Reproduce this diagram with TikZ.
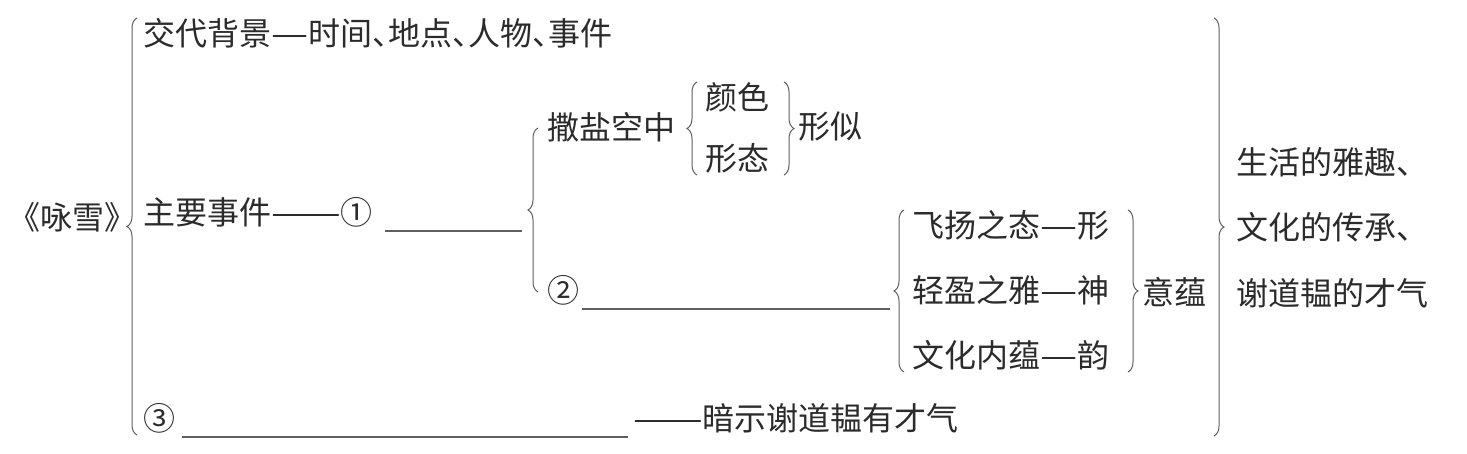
\documentclass[tikz,border=0pt]{standalone}
\usepackage{fontspec}
\usepackage{tikz}
\usetikzlibrary{decorations.pathreplacing,positioning}
\newfontfamily\cjk{Noto Sans CJK SC}
\newcommand\zdash{{\addfontfeature{FakeStretch=1.3}—}}
\newcommand\hdun{{\addfontfeature{RawFeature=+halt}、}}
\definecolor{ink}{HTML}{2B2B2B}
\definecolor{rule}{HTML}{5E5E5E}

\begin{document}
\begin{tikzpicture}[x=1pt,y=-1pt,
  font=\cjk\fontsize{32}{34}\selectfont,
  txt/.style={anchor=west,inner sep=0pt,text=ink},
  brc/.style={draw=rule,line width=1pt,decorate,
              decoration={brace,amplitude=10pt}},
  blank/.style={draw=rule,line width=1.3pt}]

  \useasboundingbox (0,0) rectangle (1467,454);

  % the poem and its three parts
  \node[txt] (poem) at (8,217) {《咏雪》};
  \node[txt] (bg)   at (143,33)  {交代背景\zdash 时间\hdun 地点\hdun 人物\hdun 事件};
  \node[txt] (main) at (143,212) {主要事件\zdash\zdash ①};
  \node[txt] (three) at (143,418) {③};
  \node[txt] (hint) at (633,418) {\zdash\zdash 暗示谢道韫有才气};
  \coordinate (b1a) at (385,231);  \coordinate (b1b) at (522,231);
  \coordinate (b3a) at (182,437);  \coordinate (b3b) at (628,437);
  \draw[blank] (b1a) -- (b1b);
  \draw[blank] (b3a) -- (b3b);

  % first branch: salt in the air
  \node[txt] (salt)  at (547,127) {撒盐空中};
  \node[txt] (color) at (705,97)  {颜色};
  \node[txt] (shape) at (705,158) {形态};
  \node[txt] (sim)   at (798,127) {形似};

  % second branch: willow catkins
  \node[txt] (two) at (547,290) {②};
  \coordinate (b2a) at (582,309);  \coordinate (b2b) at (890,309);
  \draw[blank] (b2a) -- (b2b);
  \foreach \t [count=\i] in {飞扬之态\zdash 形,轻盈之雅\zdash 神,文化内蕴\zdash 韵}{
    \node[txt] (row\i) at (912,{225+(\i-1)*65}) {\t};
  }
  \node[txt] (yun) at (1142,292) {意蕴};

  % what it shows
  \foreach \t [count=\i] in {生活的雅趣、,文化的传承、,谢道韫的才气}{
    \node[txt] (sum\i) at (1236,{162+(\i-1)*65.5}) {\t};
  }

  % braces: ends first, then the curl
  \coordinate (L1t) at (137,18);   \coordinate (L1b) at (137,435);
  \coordinate (L2t) at (538,128);  \coordinate (L2b) at (538,292);
  \coordinate (L3t) at (697,82);   \coordinate (L3b) at (697,175);
  \coordinate (R4t) at (784,82);   \coordinate (R4b) at (784,175);
  \coordinate (L5t) at (904,210);  \coordinate (L5b) at (904,372);
  \coordinate (R6t) at (1128,210); \coordinate (R6b) at (1128,372);
  \coordinate (R7t) at (1214,18);  \coordinate (R7b) at (1214,436);
  \foreach \n in {L1,L2,L3,L5}{ \draw[brc] (\n b) -- (\n t); }
  \foreach \n in {R4,R6,R7}{ \draw[brc] (\n t) -- (\n b); }
\end{tikzpicture}
\end{document}
